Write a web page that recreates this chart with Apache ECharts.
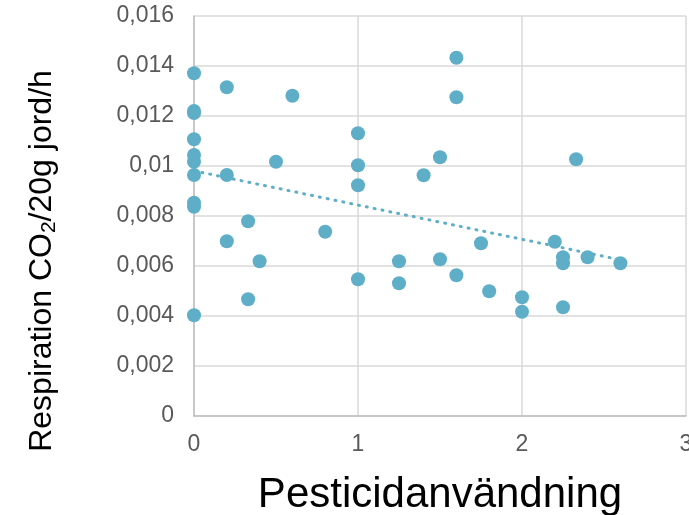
<!DOCTYPE html>
<html>
<head>
<meta charset="utf-8">
<script src="https://cdn.jsdelivr.net/npm/echarts@6/dist/echarts.min.js"></script>
<style>
  html, body { margin: 0; padding: 0; background: #fff; }
  #chart { width: 689px; height: 515px; }
</style>
</head>
<body>
<div id="chart"></div>
<script>
// Pesticidanvändning (x) vs respiration (y)
const pesticid = [
  0, 0, 0, 0, 0, 0, 0, 0, 0, 0,
  0.2, 0.2, 0.2, 0.33, 0.33, 0.4, 0.5, 0.6, 0.8,
  1, 1, 1, 1, 1.25, 1.25, 1.4, 1.5, 1.5,
  1.6, 1.6, 1.6, 1.75, 1.8, 2, 2, 2.2,
  2.25, 2.25, 2.25, 2.33, 2.4, 2.6
]
const respiration = [
  0.01371, 0.0122, 0.01212, 0.01107, 0.01044, 0.01017, 0.00964, 0.00853, 0.00837, 0.00403,
  0.01315, 0.00964, 0.00699, 0.00779, 0.00467, 0.00619, 0.01017, 0.01281, 0.00737,
  0.01131, 0.01003, 0.00923, 0.00547, 0.00619, 0.00531, 0.00963, 0.01035, 0.00627,
  0.01433, 0.01275, 0.00563, 0.00691, 0.00499, 0.00475, 0.00417, 0.00697,
  0.00635, 0.00611, 0.00435, 0.01027, 0.00635, 0.00611
]
const xTicks = [0, 1, 2, 3]
const yTicks = [0, 0.002, 0.004, 0.006, 0.008, 0.01, 0.012, 0.014, 0.016]

const color = '#5eaec8'
const font = 'Liberation Sans, Arial, sans-serif'

// linjär trendlinje (minsta kvadrat) som i Excel
const n = pesticid.length
const mx = pesticid.reduce((a, b) => a + b, 0) / n
const my = respiration.reduce((a, b) => a + b, 0) / n
let sxy = 0, sxx = 0
for (let i = 0; i < n; i++) {
  sxy += (pesticid[i] - mx) * (respiration[i] - my)
  sxx += (pesticid[i] - mx) * (pesticid[i] - mx)
}
const slope = sxy / sxx
const icpt = my - slope * mx
const xMin = Math.min(...pesticid), xMax = Math.max(...pesticid)
const trend = [[xMin, icpt + slope * xMin], [xMax, icpt + slope * xMax]]

const chart = echarts.init(document.getElementById('chart'))
chart.setOption({
  animation: false,
  grid: { left: 194, top: 16, right: 3, bottom: 99, outerBoundsMode: 'none', containLabel: false },
  xAxis: {
    type: 'value',
    min: xTicks[0],
    max: xTicks[xTicks.length - 1],
    interval: 1,
    name: 'Pesticidanvändning',
    nameLocation: 'middle',
    nameGap: 58,
    nameMoveOverlap: false,
    nameTextStyle: { fontFamily: font, fontSize: 42, color: '#000' },
    axisLine: { lineStyle: { color: '#bfbfbf', width: 1.5 } },
    axisTick: { show: false },
    axisLabel: { fontFamily: font, fontSize: 23, color: '#595959', margin: 17 },
    splitLine: { lineStyle: { color: '#d9d9d9', width: 1.5 } }
  },
  yAxis: {
    type: 'value',
    min: yTicks[0],
    max: yTicks[yTicks.length - 1],
    interval: 0.002,
    axisLine: { show: true, lineStyle: { color: '#bfbfbf', width: 1.5 } },
    axisTick: { show: false },
    axisLabel: {
      fontFamily: font, fontSize: 23, color: '#595959', margin: 20,
      formatter: (v) => String(v).replace('.', ',')
    },
    splitLine: { lineStyle: { color: '#d9d9d9', width: 1.5 } }
  },
  graphic: [{
    type: 'text',
    x: 42,
    y: 261,
    rotation: Math.PI / 2,
    style: {
      text: '{a|Respiration CO}{s|2}{a|/20g jord/h}',
      align: 'center',
      verticalAlign: 'middle',
      rich: {
        a: { fontFamily: font, fontSize: 32, fill: '#000' },
        s: { fontFamily: font, fontSize: 21, fill: '#000', verticalAlign: 'bottom', padding: [14, 0, 0, 0] }
      }
    }
  }],
  series: [
    {
      type: 'scatter',
      data: pesticid.map((x, i) => [x, respiration[i]]),
      symbolSize: 14,
      itemStyle: { color: color, opacity: 1 },
      z: 3
    },
    {
      type: 'line',
      data: trend,
      symbol: 'none',
      lineStyle: { color: color, width: 3, type: [1, 7], cap: 'round' },
      z: 2
    }
  ]
})
</script>
</body>
</html>
